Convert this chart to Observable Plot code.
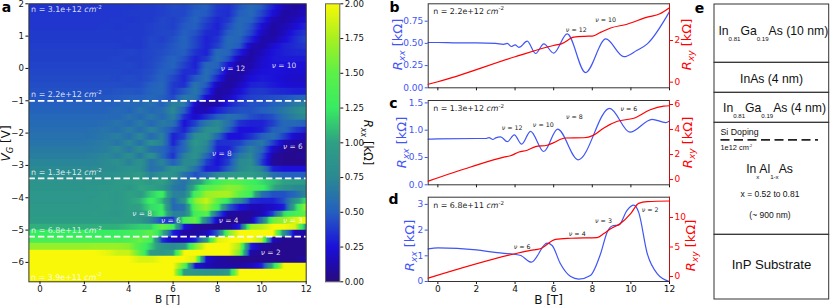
<!DOCTYPE html>
<html><head><meta charset="utf-8">
<script src="https://cdn.jsdelivr.net/npm/d3@7"></script>
<script src="https://cdn.jsdelivr.net/npm/@observablehq/plot@0.6"></script>
<style>
html,body{margin:0;padding:0;background:#fff;width:830px;height:306px;overflow:hidden}
#fig{position:relative;width:830px;height:306px}
#fig svg{position:absolute;left:0;top:0;background:transparent;overflow:visible}
#heat image{filter:blur(.55px)}
</style></head><body><div id="fig"></div>
<script>
// ---------- panel a: Rxx(B, VG), kOhm ----------
const fieldB = [-0.5,0,0.5,1,1.5,2,2.5,3,3.5,4,4.5,5,5.5,6,6.5,7,7.5,8,8.5,9,9.5,10,10.5,11,11.5,12];
const rowsTop = [ // VG = 1.9 ... -0.9
[.36,.36,.36,.36,.36,.36,.36,.37,.37,.37,.38,.38,.4,.43,.42,.48,.5,.38,.35,.47,.56,.48,.3,.14,.09,.14],
[.37,.37,.37,.37,.37,.37,.37,.37,.37,.38,.38,.38,.4,.42,.42,.5,.48,.36,.34,.5,.55,.42,.24,.1,.12,.18],
[.37,.37,.37,.37,.37,.37,.37,.37,.38,.37,.38,.38,.42,.4,.45,.52,.42,.32,.38,.55,.52,.34,.14,.1,.16,.24],
[.37,.37,.37,.37,.37,.37,.37,.38,.37,.38,.38,.4,.42,.4,.48,.5,.38,.3,.44,.56,.46,.24,.1,.14,.22,.32],
[.38,.38,.38,.38,.38,.38,.38,.38,.38,.38,.38,.4,.42,.42,.5,.46,.33,.32,.5,.56,.42,.18,.09,.17,.3,.38],
[.38,.38,.38,.38,.38,.38,.38,.38,.38,.39,.38,.42,.4,.45,.52,.42,.3,.36,.56,.52,.32,.12,.12,.22,.34,.42],
[.39,.39,.39,.39,.39,.39,.39,.39,.39,.38,.38,.42,.42,.47,.52,.42,.3,.4,.56,.48,.16,.11,.22,.3,.34,.38],
[.4,.4,.4,.4,.4,.4,.4,.4,.4,.41,.4,.42,.44,.48,.5,.36,.3,.56,.52,.3,.1,.16,.26,.3,.32,.33],
[.4,.4,.4,.4,.4,.4,.4,.4,.41,.4,.4,.42,.46,.52,.45,.3,.38,.58,.44,.14,.1,.2,.27,.28,.28,.28],
[.41,.41,.41,.41,.41,.41,.41,.41,.41,.42,.4,.43,.48,.52,.4,.3,.54,.52,.26,.1,.13,.22,.26,.25,.24,.24],
[.42,.42,.42,.42,.42,.42,.42,.42,.42,.41,.42,.44,.5,.48,.34,.34,.58,.44,.14,.09,.18,.25,.26,.24,.22,.22],
[.43,.43,.43,.43,.43,.43,.43,.43,.42,.44,.42,.46,.52,.42,.32,.48,.58,.32,.09,.12,.24,.28,.26,.22,.2,.2],
[.44,.44,.44,.44,.44,.44,.44,.44,.44,.43,.44,.5,.54,.38,.34,.62,.48,.16,.08,.18,.3,.32,.28,.24,.22,.22],
[.45,.45,.45,.45,.45,.45,.45,.45,.46,.47,.46,.52,.54,.38,.48,.64,.38,.1,.12,.24,.36,.38,.34,.32,.3,.3],
[.47,.47,.47,.47,.47,.47,.47,.47,.48,.5,.5,.54,.5,.42,.64,.6,.22,.09,.18,.32,.4,.42,.44,.46,.5,.56]
];
const rowsMid = [ // VG = -1.1 ... -3.3
[.5,.5,.5,.5,.5,.5,.5,.5,.52,.55,.55,.6,.5,.7,.65,.2,.08,.12,.3,.4,.45,.45,.5,.55,.65,.7],
[.52,.52,.52,.52,.52,.52,.52,.52,.56,.52,.62,.55,.58,.75,.5,.15,.15,.3,.4,.45,.45,.5,.55,.65,.75,.85],
[.54,.54,.54,.54,.54,.54,.54,.56,.54,.62,.55,.65,.55,.7,.35,.2,.35,.5,.6,.55,.45,.4,.45,.6,.7,.75],
[.56,.56,.56,.56,.56,.56,.56,.58,.62,.56,.66,.55,.66,.6,.25,.4,.65,.75,.6,.35,.3,.3,.4,.55,.55,.5],
[.58,.58,.58,.58,.58,.58,.6,.62,.58,.68,.58,.72,.6,.45,.3,.55,.8,.8,.5,.25,.25,.3,.5,.55,.4,.3],
[.6,.6,.6,.6,.6,.6,.61,.64,.68,.6,.74,.56,.7,.3,.4,.8,.85,.55,.25,.25,.35,.5,.6,.4,.2,.15],
[.62,.62,.62,.62,.62,.62,.64,.68,.62,.74,.6,.8,.7,.3,.55,.9,.75,.35,.35,.4,.55,.65,.4,.15,.1,.1],
[.65,.65,.65,.65,.65,.65,.66,.68,.75,.64,.78,.6,.55,.4,.55,.85,.7,.3,.3,.5,.7,.55,.2,.08,.05,.05],
[.68,.68,.68,.68,.68,.68,.7,.74,.68,.8,.64,.84,.55,.35,.7,.85,.55,.25,.35,.65,.75,.45,.1,.05,.05,.1],
[.72,.72,.72,.72,.72,.72,.72,.76,.82,.7,.85,.6,.72,.5,.75,.75,.4,.25,.4,.75,.8,.4,.08,.05,.05,.05],
[.75,.75,.75,.75,.75,.75,.76,.77,.78,.85,.82,.6,.65,.85,.8,.6,.3,.3,.5,.75,.85,.7,.3,.25,.25,.25],
[.8,.8,.8,.8,.8,.8,.8,.82,.84,.88,.95,.7,.85,.85,.6,.45,.55,.75,.9,.95,.95,.85,.6,.5,.5,.5]
];
const rowsLow = [ // VG = -3.5 ... -6.5
[.86,.86,.86,.86,.86,.86,.87,.88,.92,.95,1,.92,1,.7,.6,.85,1.15,1.3,1.45,1.4,1.3,1.2,1.1,1,.95,.95],
[.88,.88,.88,.88,.88,.88,.89,.9,.94,.9,1.02,1,.9,.65,.6,1.1,1.45,1.55,1.65,1.6,1.4,1.3,1.05,.85,.75,.75],
[.9,.9,.9,.9,.9,.9,.9,.94,.9,1,.95,1.15,1.3,.7,.7,1.35,1.7,1.75,1.75,1.5,1.3,.6,.45,.45,.55,.75],
[.9,.9,.9,.9,.9,.9,.92,.94,.9,1,1.05,1.3,1.1,.55,.9,1.65,1.85,1.5,1.2,.8,.35,.3,.3,.45,.85,1.25],
[.92,.92,.92,.92,.92,.92,.92,.95,.92,.98,1,1.2,1.25,.55,.6,1.5,1.7,1.35,.5,.25,.15,.15,.2,.3,1.1,1.75],
[.93,.93,.93,.93,.93,.93,.94,.92,.9,.97,.9,1.1,1.3,.7,.7,1.35,1.45,.5,.1,.08,.08,.15,.4,1.2,1.35,1.55],
[.95,.95,.95,.95,.95,.95,.95,.95,.95,.95,.9,.7,.4,.35,1.35,1.55,.7,.15,.05,.05,.1,.6,1.55,1.7,1.9,2],
[1.05,1.05,1.05,1.05,1.05,1.05,1.05,1.05,1.05,1.1,1.15,1.15,1.55,1.3,.25,.08,.06,.05,.08,.3,1.7,1.8,2,2,1.9,.9],
[1.25,1.25,1.25,1.25,1.25,1.25,1.25,1.25,1.25,1.3,1.35,1.5,1.1,.3,.1,.1,.15,.5,1.6,2,2,2,2,.8,.15,.1],
[1.35,1.35,1.35,1.35,1.35,1.35,1.35,1.35,1.35,1.4,1.55,1.35,.35,.15,.15,.3,.9,1.9,2,2,2,1.8,.15,.05,.05,.05],
[1.68,1.68,1.68,1.68,1.68,1.68,1.7,1.7,1.7,1.65,1.4,1.15,.85,.75,.9,1.6,2,2,2,1.75,.3,.1,.05,.05,.05,.05],
[2,2,2,2,2,2,2,1.95,1.85,1.85,1.5,.95,.9,1,2,2,2,2,2,1.6,.1,.05,.05,.05,.05,.05],
[2,2,2,2,2,2,2,2,2,2,1.9,1.9,2,2,2,1.9,.2,.1,.07,.05,.05,.05,.05,.05,.05,.1],
[2,2,2,2,2,2,2,2,2,2,2,2,2,2,1.5,.25,.15,.1,.1,.1,.15,.3,1.1,2,2,2],
[2,2,2,2,2,2,2,2,2,2,2,2,2,2,.95,.9,.85,.85,.95,2,2,2,2,2,2,2],
[2,2,2,2,2,2,2,2,2,2,2,2,2,2,2,2,2,2,2,2,2,2,2,2,2,2]
];
const rxxMap = [...rowsTop,...rowsMid,...rowsLow];
const cutV = [-1,-3.4,-5.2];
const densityLabels = ["n = 3.1e+12 *cm*^{-2}","n = 2.2e+12 *cm*^{-2}","n = 1.3e+12 *cm*^{-2}","n = 6.8e+11 *cm*^{-2}","n = 3.9e+11 *cm*^{-2}"];
const densityV = [1.83,-0.82,-3.22,-5.02,-6.46];
const nuMapLabels = ["*ν* = 12","*ν* = 10","*ν* = 6","*ν* = 8","*ν* = 8","*ν* = 6","*ν* = 4","*ν* = 3","*ν* = 2"];
const nuMapB = [8.7,11,11.4,8.2,4.6,5.9,8.5,11.4,10.4];
const nuMapV = [0,.09,-2.43,-2.62,-4.5,-4.7,-4.7,-4.7,-5.7];

// ---------- panel b ----------
const bXX = [-.5,0,1,2,3,3.4,3.6,3.8,4,4.2,4.63,5.06,5.49,6,6.7,7.65,8.7,9.64,10.3,10.85,12];
const rXXb = [.51,.51,.506,.506,.5,.49,.5,.465,.484,.455,.525,.386,.495,.39,.607,.172,.55,.35,.42,.495,.858];
const bXYb = [-.5,0,4,6,6.4,7.05,7.6,8,8.45,8.95,9.8,10.85,11.5,12];
const rXYb = [-.1,.02,1.22,1.76,1.84,2.16,2.2,2.21,2.4,2.6,2.78,3.12,3.28,3.57];
// ---------- panel c ----------
const bXXc = [-.5,0,2,2.5,2.65,2.85,3,3.25,3.6,3.96,4.34,4.8,5.49,6.2,7.27,8.9,9.95,11.1,11.8,12];
const rXXc = [.835,.84,.848,.848,.865,.83,.86,.878,.79,.915,.744,.98,.61,1.02,.457,1.4,.963,1.2,1.14,1.17];
const bXYc = [-.5,1.7,3.42,3.76,4.2,4.63,5.06,5.66,6,6.6,7.57,8.05,8.6,9.3,10.15,11,11.7,12];
const rXYc = [-.13,1,1.79,1.9,2.2,2.34,2.63,2.74,2.95,3.32,3.34,3.53,4.13,4.66,4.9,5.58,5.87,5.9];
// ---------- panel d ----------
const bXXd = [-.5,0,2,3.07,3.94,4.3,4.84,5.66,5.92,6.35,6.88,7.3,7.9,8.43,8.77,9.03,9.38,9.8,10.15,10.4,10.85,11.37,12];
const rXXd = [1.27,1.31,1.23,1.12,1.06,1.01,.75,1.49,1.4,.69,.19,.09,.23,1.08,1.92,2.16,2.2,2.77,2.97,2.7,1.08,.3,0];
const bXYd = [-.5,4,4.8,5.3,6.1,6.9,8.25,8.6,8.95,9.46,10,10.4,10.85,12];
const rXYd = [-.28,3.86,4.43,4.7,6.3,6.48,6.6,7.27,8.1,8.98,10.7,12.4,12.7,12.8];

// panel-annotation text for b, c, d (B, left-axis value)
const annB = {n:"n = 2.2e+12 *cm*^{-2}", nx:-.24, ny:.863, t:["*ν* = 12","*ν* = 10"], x:[7.17,8.69], y:[.653,.766]};
const annC = {n:"n = 1.3e+12 *cm*^{-2}", nx:-.24, ny:1.392, t:["*ν* = 12","*ν* = 10","*ν* = 8","*ν* = 6"], x:[3.85,5.46,7.07,9.9], y:[1.05,1.1,1.238,1.397]};
const annD = {n:"n = 6.8e+11 *cm*^{-2}", nx:-.24, ny:2.96, t:["*ν* = 6","*ν* = 4","*ν* = 3","*ν* = 2"], x:[4.37,7.22,8.58,11], y:[1.335,1.83,2.37,2.79]};

// ---------- panel e: layer stack ----------
const layerEdges = [4,62.3,92.3,122.3,234.3,299];
const stackCentered = [
 {t:"In_{0.81}Ga_{0.19}As (10 nm)", x:772.8, y:31, s:12.2},
 {t:"InAs (4 nm)", x:771, y:79, s:12.2},
 {t:"In_{0.81}Ga_{0.19}As (4 nm)", x:774, y:108, s:12.2},
 {t:"In_{x}Al_{1-x}As", x:769, y:169, s:12.2},
 {t:"x = 0.52 to 0.81", x:769.5, y:193.5, s:8.5},
 {t:"(~ 900 nm)", x:769.5, y:215, s:8.5},
 {t:"InP Substrate", x:771, y:264, s:13.2}
];
const stackLeft = [
 {t:"Si Doping", x:720, y:131.5, s:8.8},
 {t:"1e12 cm^{-2}", x:720, y:147.5, s:7.4}
];
const panelTags = [["a",6,7],["b",394,7],["c",393,103],["d",393,199],["e",699,8]];
const rotLabels = [
 {t:"*V*_{*G*} [V]",x:6,y:143,r:-90,s:12,c:"#111"},
 {t:"*R*_{*xx*} [kΩ]",x:367,y:142,r:90,s:11.5,c:"#111"},
 {t:"*R*_{*xx*} [kΩ]",x:397,y:44,r:-90,s:13,c:"#3f55f5"},
 {t:"*R*_{*xy*} [kΩ]",x:686,y:44,r:-90,s:13,c:"#f00"},
 {t:"*R*_{*xx*} [kΩ]",x:401,y:142,r:-90,s:13,c:"#3f55f5"},
 {t:"*R*_{*xy*} [kΩ]",x:687,y:142,r:-90,s:13,c:"#f00"},
 {t:"*R*_{*xx*} [kΩ]",x:409,y:245,r:-90,s:13,c:"#3f55f5"},
 {t:"*R*_{*xy*} [kΩ]",x:690,y:245,r:-90,s:13,c:"#f00"}
];
const bottomLabels = [{t:"B [T]",x:167,y:299.5,s:10.5},{t:"B [T]",x:548,y:299.5,s:12}];

// colour map
const cmapV = [0,.12,.25,.5,.75,1,1.25,1.5,1.75,2];
const cmapC = ["#2a0a7c","#1f0aac","#1c10da","#2460c0","#2a8a92","#2ea084","#38ec62","#5cf048","#a8f020","#f8f808"];
const colorOpts = {type:"linear",domain:cmapV,range:cmapC,clamp:true,interpolate:"rgb"};

const FONT = "'DejaVu Sans',sans-serif";
const BLUE = "#3f55f5", RED = "#ff0000", FR = "#333";
const W = 830, H = 306;

// turn *italic*, _{sub}, ^{sup} markup into tspans so texts stay real text
function rich(svg){
  svg.querySelectorAll("text").forEach(t=>{
    const targets = t.querySelectorAll("tspan").length ? [...t.querySelectorAll("tspan")] : [t];
    targets.forEach(el=>{
      const s = el.textContent;
      if(!/[*_^]/.test(s)) return;
      const cs = getComputedStyle(t);
      const fs = parseFloat(cs.fontSize)||10;
      const lib = /Liberation/.test(cs.fontFamily);
      const ratio = lib ? .5 : .7;
      const subPx = fs*(lib ? .42 : .22), supPx = -fs*.42;
      const parts = s.split(/(_\{[^}]*\}|\^\{[^}]*\})/).filter(p=>p!=="");
      el.textContent="";
      let shift=0;
      const add=(txt,dy,size,it)=>{
        const ts=document.createElementNS("http://www.w3.org/2000/svg","tspan");
        ts.textContent=txt;
        if(dy) ts.setAttribute("dy",dy.toFixed(2));
        if(size) ts.setAttribute("style","font-size:"+size.toFixed(2)+"px");
        if(it) ts.setAttribute("font-style","italic");
        el.appendChild(ts);
      };
      for(const p of parts){
        const m=p.match(/^([_^])\{(.*)\}$/);
        if(m){
          const d = m[1]==="_"?subPx:supPx;
          const inner=m[2];
          add(inner.replace(/\*/g,""),d,fs*ratio,/^\*.*\*$/.test(inner));
          shift=d;
        } else {
          let first=true;
          p.split(/(\*[^*]+\*)/).filter(q=>q!=="").forEach(q=>{
            add(q.replace(/\*/g,""),first&&shift?-shift:0,null,/^\*.*\*$/.test(q));
            first=false;
          });
          shift=0;
        }
      }
    });
  });
  return svg;
}
const base = (m,o)=>({width:W,height:H,marginLeft:m[0],marginRight:W-m[1],marginTop:m[2],marginBottom:H-m[3],
  style:{background:"transparent",fontFamily:FONT,fontSize:"8.6px",color:"#111",overflow:"visible"},...o});
const fig = document.getElementById("fig");
const put = (svg,id)=>{ if(id) svg.id=id; fig.appendChild(svg); rich(svg); };

// ---- a: map
const VMAX = 2, VMIN = -6.6, ROW = .2;
const rxxAt = (b,v)=>{
  const r = Math.max(0,Math.min(rxxMap.length-1,Math.floor((VMAX-v)/ROW)));
  const row = rxxMap[r];
  const p = Math.max(0,Math.min(fieldB.length-1.0001,(b-fieldB[0])/.5));
  const i = Math.floor(p);
  return row[i]+(row[i+1]-row[i])*(p-i);
};
put(Plot.plot(base([28.4,305.7,3.3,281.3],{
  x:{domain:[-.5,12],axis:null},
  y:{domain:[VMIN,VMAX],axis:null},
  color:colorOpts,
  marks:[
    Plot.raster({fill:rxxAt,x1:-.5,x2:12,y1:VMIN,y2:VMAX,width:277,height:278,imageRendering:"auto"}),
    Plot.ruleY(cutV,{stroke:"#fff",strokeWidth:1.7,strokeDasharray:"6.5 3"}),
    Plot.frame({stroke:FR,strokeWidth:1}),
    Plot.axisX({ticks:d3.range(0,13,2),tickSize:3,tickPadding:1.5,label:null,fontSize:8.6}),
    Plot.axisY({ticks:d3.range(-6,3),tickSize:3,tickPadding:2,label:null,tickFormat:d=>d<0?"−"+(-d):d,fontSize:8.6}),
    Plot.text(densityLabels,{x:()=>-.4,y:(d,i)=>densityV[i],text:d=>d,textAnchor:"start",fill:"#fff",fillOpacity:.85,fontSize:7.9}),
    Plot.text(nuMapLabels,{x:(d,i)=>nuMapB[i],y:(d,i)=>nuMapV[i],text:d=>d,fill:"#fff",fillOpacity:.85,fontSize:7.4})
  ]})),"heat");

// ---- colour bar
put(Plot.plot(base([325,339.3,3.3,281.3],{
  x:{domain:[0,1],axis:null},
  y:{domain:[0,2],axis:null},
  color:colorOpts,
  marks:[
    Plot.raster({fill:(x,y)=>y,x1:0,x2:1,y1:0,y2:2,width:4,height:278}),
    Plot.frame({stroke:"#666",strokeWidth:1}),
    Plot.axisY({anchor:"right",ticks:d3.range(0,2.01,.25),tickFormat:d3.format(".2f"),tickSize:3,tickPadding:2,label:null,fontSize:8.6})
  ]})));

// ---- b, c, d : two overlaid plots sharing the field axis, each with its own y scale
function panel(box,xxDom,xyDom,xxB,xxV,xyB,xyV,ann,xxTicks,xyTicks,xxFmt,showX){
  const xAxis = showX
    ? Plot.axisX({ticks:d3.range(0,13,2),tickSize:3,tickPadding:1.5,label:null,fontSize:9})
    : Plot.axisX({ticks:d3.range(0,13,2),tickSize:3,tickFormat:()=>"",label:null});
  put(Plot.plot(base(box,{
    x:{domain:[-.5,12],axis:null},
    y:{domain:xxDom,axis:null},
    marks:[
      Plot.line(xxB,{x:d=>d,y:(d,i)=>xxV[i],stroke:BLUE,strokeWidth:1.2,curve:"monotone-x"}),
      xAxis,
      Plot.axisY({ticks:xxTicks,tickFormat:xxFmt,tickSize:3,tickPadding:2,label:null,color:BLUE,fontSize:9}),
      Plot.frame({stroke:FR,strokeWidth:1}),
      Plot.text([ann.n],{x:()=>ann.nx,y:()=>ann.ny,text:d=>d,textAnchor:"start",fill:"#222",fontSize:7.9}),
      Plot.text(ann.t,{x:(d,i)=>ann.x[i],y:(d,i)=>ann.y[i],text:d=>d,fill:"#222",fontSize:6.3})
    ]})));
  put(Plot.plot(base(box,{
    x:{domain:[-.5,12],axis:null},
    y:{domain:xyDom,axis:null},
    marks:[
      Plot.line(xyB,{x:d=>d,y:(d,i)=>xyV[i],stroke:RED,strokeWidth:1.2,curve:"monotone-x"}),
      Plot.ruleX([12],{stroke:RED,strokeOpacity:.7}),
      Plot.axisY({anchor:"right",ticks:xyTicks,tickFormat:d3.format("d"),tickSize:3,tickPadding:2,label:null,color:RED,fontSize:9})
    ]})));
}
panel([427.7,669,3.3,87.3],[0,.9459],[-.27,3.76],bXX,rXXb,bXYb,rXYb,annB,[0,.25,.5,.75],[0,2],d3.format(".2f"),false);
panel([427.7,669,100,184.3],[0,1.544],[-.42,6.32],bXXc,rXXc,bXYc,rXYc,annC,[0,.5,1,1.5],[0,2,4,6],d3.format(".1f"),false);
panel([427.7,669,196.7,281],[0,3.28],[-.85,13.44],bXXd,rXXd,bXYd,rXYd,annD,[0,1,2,3],[0,5,10],d3.format("d"),true);

// ---- e + page-level labels (pixel scale)
const layers = d3.pairs(layerEdges).map(([a,b])=>({a,b}));
const LIB = "'Liberation Sans',Arial,sans-serif";
put(Plot.plot({width:W,height:H,margin:0,
  x:{domain:[0,W],range:[0,W],axis:null},
  y:{domain:[0,H],range:[0,H],axis:null},
  style:{background:"transparent",fontFamily:FONT,overflow:"visible"},
  marks:[
    Plot.rect(layers,{x1:()=>714,x2:()=>828.7,y1:"a",y2:"b",stroke:"#333",strokeWidth:1,fill:"none"}),
    Plot.ruleY([139.3],{x1:()=>720.5,x2:()=>818,stroke:"#222",strokeWidth:1.7,strokeDasharray:"9 4.5"}),
    Plot.text(stackCentered,{x:"x",y:"y",text:"t",fontSize:"s",fill:"#111",fontFamily:LIB}),
    Plot.text(stackLeft,{x:"x",y:"y",text:"t",fontSize:"s",textAnchor:"start",fill:"#111",fontFamily:LIB}),
    Plot.text(panelTags,{x:d=>d[1],y:d=>d[2],text:d=>d[0],fontSize:14,fontWeight:"bold",fill:"#000"}),
    Plot.text(rotLabels.filter(d=>d.r===-90),{x:"x",y:"y",text:"t",rotate:-90,fontSize:"s",fill:"c"}),
    Plot.text(rotLabels.filter(d=>d.r===90),{x:"x",y:"y",text:"t",rotate:90,fontSize:"s",fill:"c"}),
    Plot.text(bottomLabels,{x:"x",y:"y",text:"t",fontSize:"s",fill:"#111"})
  ]}));
</script></body></html>
